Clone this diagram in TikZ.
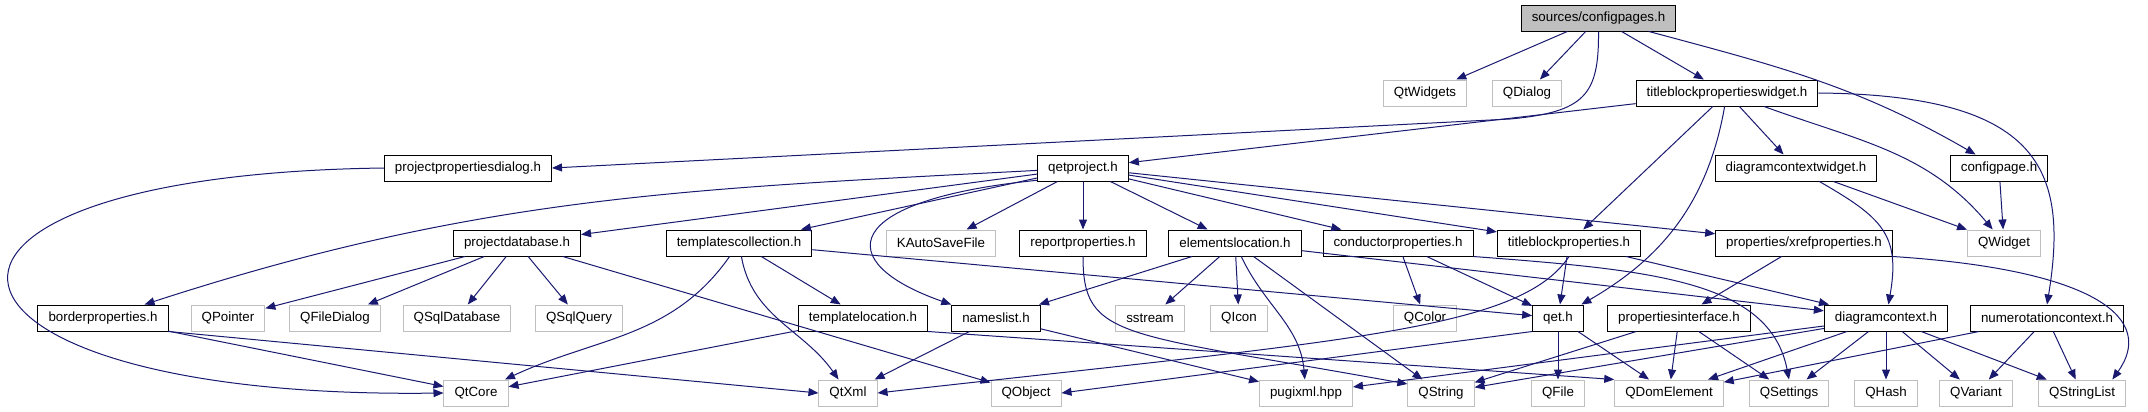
\documentclass[tikz,border=0pt]{standalone}
\usepackage{fontspec}
\setmainfont{Liberation Sans}
\usetikzlibrary{arrows.meta}
\definecolor{depEdge}{RGB}{25,25,112}
\definecolor{sysLine}{RGB}{191,191,191}
\definecolor{rootFill}{RGB}{191,191,191}

\begin{document}
\begin{tikzpicture}[
  x=0.75pt, y=-0.75pt,
  every node/.style={rectangle, draw, line width=0.75pt, minimum height=19.5pt,
    inner xsep=7.9pt, inner ysep=0pt, font=\fontsize{10}{12}\selectfont},
  hdr/.style={draw=black, fill=white},
  sys/.style={draw=sysLine, fill=white},
  root/.style={draw=black, fill=rootFill},
  dep/.style={-{Triangle[length=7.5pt,width=6pt]}, line width=0.75pt, depEdge}
]
  \useasboundingbox (0,0) rectangle (2148,411);

  % Rows 1-3
  \node[root] (configpages)  at (1598.5,18) {sources/configpages.h};
  \node[sys]  (qtwidgets)    at (1425,93)   {QtWidgets};
  \node[sys]  (qdialog)      at (1527,93)   {QDialog};
  \node[hdr]  (tbpwidget)    at (1727,93)   {titleblockpropertieswidget.h};
  \node[hdr]  (ppdialog)     at (468,168)   {projectpropertiesdialog.h};
  \node[hdr]  (qetproject)   at (1083,168)  {qetproject.h};
  \node[hdr]  (dcwidget)     at (1796,168)  {diagramcontextwidget.h};
  \node[hdr]  (configpage)   at (1999,168)  {configpage.h};

  % Row 4
  \node[hdr]  (projectdb)      at (517,243)  {projectdatabase.h};
  \node[hdr]  (tplcollection)  at (739,243)  {templatescollection.h};
  \node[sys]  (kautosave)      at (941,243)  {KAutoSaveFile};
  \node[hdr]  (reportprops)    at (1083,243) {reportproperties.h};
  \node[hdr]  (elemlocation)   at (1235,243) {elementslocation.h};
  \node[hdr]  (conductorprops) at (1398,243) {conductorproperties.h};
  \node[hdr]  (tbprops)        at (1569,243) {titleblockproperties.h};
  \node[hdr]  (xrefprops)      at (1804,243) {properties/xrefproperties.h};
  \node[sys]  (qwidget)        at (2004,243) {QWidget};

  % Row 5
  \node[hdr]  (borderprops)  at (103,318)  {borderproperties.h};
  \node[sys]  (qpointer)     at (228,318)  {QPointer};
  \node[sys]  (qfiledialog)  at (335,318)  {QFileDialog};
  \node[sys]  (qsqldb)       at (457,318)  {QSqlDatabase};
  \node[sys]  (qsqlquery)    at (579,318)  {QSqlQuery};
  \node[hdr]  (tpllocation)  at (863,318)  {templatelocation.h};
  \node[hdr]  (nameslist)    at (996,318)  {nameslist.h};
  \node[sys]  (sstream)      at (1150,318) {sstream};
  \node[sys]  (qicon)        at (1239,318) {QIcon};
  \node[sys]  (qcolor)       at (1425,318) {QColor};
  \node[hdr]  (qet)          at (1558,318) {qet.h};
  \node[hdr]  (propsiface)   at (1679,318) {propertiesinterface.h};
  \node[hdr]  (diagramctx)   at (1886,318) {diagramcontext.h};
  \node[hdr]  (numctx)       at (2047,318) {numerotationcontext.h};

  % Row 6
  \node[sys]  (qtcore)      at (476,393)  {QtCore};
  \node[sys]  (qtxml)       at (848,393)  {QtXml};
  \node[sys]  (qobject)     at (1026,393) {QObject};
  \node[sys]  (pugixml)     at (1306,393) {pugixml.hpp};
  \node[sys]  (qstring)     at (1441,393) {QString};
  \node[sys]  (qfile)       at (1558,393) {QFile};
  \node[sys]  (qdomelement) at (1669,393) {QDomElement};
  \node[sys]  (qsettings)   at (1789,393) {QSettings};
  \node[sys]  (qhash)       at (1886,393) {QHash};
  \node[sys]  (qvariant)    at (1976,393) {QVariant};
  \node[sys]  (qstringlist) at (2082,393) {QStringList};

  % configpages.h
  \draw[dep] (configpages) -- (qtwidgets);
  \draw[dep] (configpages) -- (qdialog);
  \draw[dep] (configpages) -- (tbpwidget);
  \draw[dep] (configpages) to[out=-15, in=150] (configpage);
  \draw[dep] (configpages.south) .. controls (1599,95) and (1585,112) .. (1510,119) -- (ppdialog.east);

  % titleblockpropertieswidget.h
  \draw[dep] (tbpwidget) -- (qetproject);
  \draw[dep] (tbpwidget) -- (tbprops);
  \draw[dep] (tbpwidget) to[out=-100, in=30] (qet);
  \draw[dep] (tbpwidget) -- (dcwidget);
  \draw[dep] (tbpwidget) to[out=-20, in=130] (qwidget);
  \draw[dep] (tbpwidget.east) .. controls +(222,2) and +(22,-135) .. (numctx.north);
  \draw[dep] (dcwidget) -- (qwidget);
  \draw[dep] (dcwidget) to[out=-30, in=80, looseness=1.3] (diagramctx);
  \draw[dep] (configpage) -- (qwidget);
  \draw[dep] (ppdialog.west) .. controls (-150,175) and (-100,400) .. (qtcore.west);

  % qetproject.h
  \draw[dep] (qetproject) to[out=183, in=18] (borderprops);
  \draw[dep] (qetproject) -- (projectdb);
  \draw[dep] (qetproject) -- (tplcollection);
  \draw[dep] (qetproject.195) .. controls (840,200) and (830,262) .. (nameslist.north west);
  \draw[dep] (qetproject) -- (kautosave);
  \draw[dep] (qetproject) -- (reportprops);
  \draw[dep] (qetproject) -- (elemlocation);
  \draw[dep] (qetproject) -- (conductorprops);
  \draw[dep] (qetproject) -- (tbprops);
  \draw[dep] (qetproject) -- (xrefprops);

  % row 4 headers
  \draw[dep] (projectdb) -- (qpointer);
  \draw[dep] (projectdb) -- (qfiledialog);
  \draw[dep] (projectdb) -- (qsqldb);
  \draw[dep] (projectdb) -- (qsqlquery);
  \draw[dep] (projectdb) -- (qobject);
  \draw[dep] (tplcollection) to[out=-125, in=25] (qtcore);
  \draw[dep] (tplcollection) to[out=-80, in=125] (qtxml);
  \draw[dep] (tplcollection) -- (tpllocation);
  \draw[dep] (tplcollection) -- (qet);
  \draw[dep] (reportprops.south) .. controls (1083,340) and (1120,332) .. (qstring.165);
  \draw[dep] (elemlocation) -- (nameslist);
  \draw[dep] (elemlocation) -- (sstream);
  \draw[dep] (elemlocation) -- (qicon);
  \draw[dep] (elemlocation) to[out=-65, in=95] (pugixml);
  \draw[dep] (elemlocation) -- (qstring);
  \draw[dep] (elemlocation) -- (diagramctx);
  \draw[dep] (conductorprops) -- (qcolor);
  \draw[dep] (conductorprops) -- (qet);
  \draw[dep] (conductorprops.south east) .. controls (1650,270) and (1770,280) .. (qsettings.north);
  \draw[dep] (tbprops) -- (qet);
  \draw[dep] (tbprops) -- (diagramctx);
  \draw[dep] (tbprops.south) .. controls (1520,330) and (1350,340) .. (qtxml.east);
  \draw[dep] (xrefprops) -- (propsiface);
  \draw[dep] (xrefprops.south east) .. controls (2100,270) and (2155,320) .. (qstringlist.24);

  % row 5 headers
  \draw[dep] (borderprops) -- (qtcore);
  \draw[dep] (borderprops.south east) -- (qtxml.west);
  \draw[dep] (tpllocation) -- (qtcore);
  \draw[dep] (tpllocation.south east) -- (qdomelement.north west);
  \draw[dep] (nameslist) -- (qtxml);
  \draw[dep] (nameslist) -- (pugixml);
  \draw[dep] (qet) -- (qfile);
  \draw[dep] (qet) -- (qdomelement);
  \draw[dep] (qet.south west) -- (qobject.east);
  \draw[dep] (propsiface) -- (qstring);
  \draw[dep] (propsiface) -- (qdomelement);
  \draw[dep] (propsiface) -- (qsettings);
  \draw[dep] (diagramctx) -- (qstring);
  \draw[dep] (diagramctx) -- (pugixml);
  \draw[dep] (diagramctx) -- (qdomelement);
  \draw[dep] (diagramctx) -- (qsettings);
  \draw[dep] (diagramctx) -- (qhash);
  \draw[dep] (diagramctx) -- (qvariant);
  \draw[dep] (diagramctx) -- (qstringlist);
  \draw[dep] (numctx) -- (qdomelement);
  \draw[dep] (numctx) -- (qvariant);
  \draw[dep] (numctx) -- (qstringlist);
\end{tikzpicture}
\end{document}
